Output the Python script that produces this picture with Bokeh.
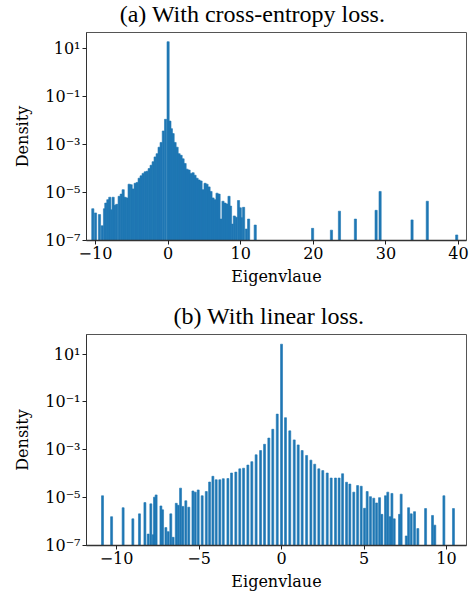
from bokeh.plotting import figure
from bokeh.layouts import column
from bokeh.models import FixedTicker, CustomJSTickFormatter, Range1d
from bokeh.core.properties import value
from bokeh.embed import file_html
from bokeh.resources import INLINE

# ---------------- data: (a) cross-entropy loss ----------------
ce_eig = [-10.37, -10.0, -9.45, -9.08, -8.76, -8.58, -8.3, -8.03, -7.8, -7.57,
          -7.34, -7.07, -6.74, -6.46, -6.19, -5.92, -5.64, -5.37, -5.09, -4.82,
          -4.54, -4.27, -3.99, -3.72, -3.44, -3.16, -2.89, -2.61, -2.34, -2.06,
          -1.79, -1.51, -1.24, -0.96, -0.66, -0.35, 0.0, 0.25, 0.45, 0.69,
          0.96, 1.24, 1.51, 1.79, 2.06, 2.34, 2.61, 2.89, 3.16, 3.44,
          3.71, 3.99, 4.26, 4.54, 4.81, 5.09, 5.36, 5.64, 5.91, 6.19,
          6.46, 6.74, 7.02, 7.29, 7.56, 7.84, 8.11, 8.39, 8.6, 8.85,
          9.12, 9.39, 9.7, 9.94, 10.12, 10.4, 10.77, 11.09,
          12.0, 19.9, 22.5, 23.6, 25.8, 28.65, 29.2, 33.6, 35.7, 39.75]
ce_density = [2.1e-6, 1.4e-6, 1.2e-6, 4.1e-7, 2.1e-6, 3.6e-6, 5.0e-6, 6.3e-6, 1.9e-6, 6.3e-6,
              2.9e-6, 3.2e-6, 6.9e-6, 8.5e-6, 1.3e-5, 6.3e-6, 5.9e-6, 2.2e-5, 2.1e-5, 1.4e-5,
              2.4e-5, 2.6e-5, 3.9e-5, 4.9e-5, 6.2e-5, 7.2e-5, 7.6e-5, 9.8e-5, 1.35e-4, 1.9e-4,
              3.0e-4, 4.1e-4, 7.6e-4, 1.2e-3, 3.6e-3, 1.1e-2, 18.6, 9.3e-3, 4.5e-3, 2.8e-3,
              1.2e-3, 7.6e-4, 4.1e-4, 3.5e-4, 2.5e-4, 1.6e-4, 9.3e-5, 8.5e-5, 6.2e-5, 6.6e-5,
              5.2e-5, 3.9e-5, 3.3e-5, 3.0e-5, 1.3e-5, 2.4e-5, 2.2e-5, 1.7e-5, 1.1e-5, 5.9e-6,
              5.0e-6, 9.3e-6, 8.5e-6, 7.8e-7, 4.3e-6, 3.6e-6, 3.3e-6, 6.9e-6, 2.7e-6, 4.8e-7,
              1.05e-6, 9.3e-7, 4.6e-6, 2.3e-6, 8.9e-7, 2.4e-6, 3.0e-7, 7.8e-7,
              4.4e-7, 3.2e-7, 2.7e-7, 1.66e-6, 7.8e-7, 1.8e-6, 1.1e-5, 7.2e-7, 4.3e-6, 1.7e-7]

# ---------------- data: (b) linear loss ----------------
lin_eig = [-10.85, -10.30, -9.6, -9.01, -8.61, -8.28, -8.08, -7.92, -7.78, -7.70,
           -7.6, -7.31, -7.21, -7.01, -6.87, -6.71, -6.57, -6.38, -6.26, -6.12,
           -5.98, -5.80, -5.62, -5.37, -5.23, -5.05, -4.81, -4.56, -4.36, -4.16,
           -3.96, -3.74, -3.53, -3.25, -3.03, -2.77, -2.53, -2.30, -2.04, -1.80,
           -1.54, -1.27, -1.03, -0.77, -0.53, -0.26, 0.0, 0.24, 0.50, 0.77,
           1.01, 1.25, 1.52, 1.78, 2.01, 2.26, 2.50, 2.77, 3.01, 3.27,
           3.49, 3.70, 3.94, 4.14, 4.38, 4.61, 4.83, 5.03, 5.19, 5.39,
           5.59, 5.76, 5.94, 6.08, 6.30, 6.44, 6.58, 6.69, 6.83, 7.15,
           7.25, 7.56, 7.70, 7.86, 8.06, 8.26, 8.73, 9.15, 9.29, 9.84, 10.42]
lin_density = [1.2e-5, 1.6e-6, 3.8e-6, 1.3e-6, 2.1e-6, 6.2e-6, 3.0e-7, 5.5e-6, 2.8e-7, 1.05e-5,
               1.3e-5, 4.5e-6, 3.1e-6, 5.6e-7, 3.8e-7, 2.1e-6, 2.2e-7, 5.8e-6, 4.8e-6, 2.5e-5,
               4.3e-6, 7.4e-6, 4.0e-6, 1.9e-5, 1.7e-5, 2.1e-5, 1.2e-5, 1.8e-5, 4.5e-5, 7.8e-5,
               5.6e-5, 5.6e-5, 6.2e-5, 6.3e-5, 1.07e-4, 1.17e-4, 1.6e-4, 1.7e-4, 2.3e-4, 3.2e-4,
               6.2e-4, 9.3e-4, 1.7e-3, 3.1e-3, 7.2e-3, 3.1e-2, 26.0, 2.2e-2, 6.2e-3, 2.6e-3,
               1.6e-3, 9.3e-4, 5.8e-4, 3.7e-4, 2.5e-4, 1.6e-4, 1.35e-4, 1.07e-4, 6.6e-5, 6.6e-5,
               6.6e-5, 1.0e-4, 4.4e-5, 3.7e-5, 1.7e-5, 3.2e-5, 3.0e-5, 3.6e-6, 1.8e-5, 1.1e-5,
               9.5e-6, 6.0e-6, 1.0e-5, 2.0e-6, 1.2e-5, 1.7e-5, 1.6e-6, 1.5e-5, 1.3e-6, 2.0e-6,
               1.4e-5, 2.5e-7, 3.8e-6, 2.1e-6, 2.6e-6, 5.1e-7, 3.5e-6, 1.8e-6, 7.1e-7, 1.2e-5, 3.5e-6]

titles = ["(a) With cross-entropy loss.", "(b) With linear loss."]
y_ticks = [1e-7, 1e-5, 1e-3, 1e-1, 1e1]
ce_xticks = [-10, 0, 10, 20, 30, 40]
lin_xticks = [-10, -5, 0, 5, 10]
floor = 1e-7

BLUE = "#1f77b4"
SERIF = "DejaVu Serif"
W = 472
MBL, MBR = 86, 6          # frame spans page x 86 .. 466 in every figure of the column

Y_FMT = CustomJSTickFormatter(code="""
const e = Math.round(Math.log10(tick));
const sup = {'-':'\u207b','0':'\u2070','1':'\u00b9','2':'\u00b2','3':'\u00b3','4':'\u2074','5':'\u2075','6':'\u2076','7':'\u2077','8':'\u2078','9':'\u2079'};
return '10' + String(e).split('').map(c => sup[c]).join('');
""")
X_FMT = CustomJSTickFormatter(code="""
return tick < 0 ? '\u2212' + Math.abs(tick) : String(tick);
""")


def title_fig(text, height, cx, center_from_top):
    # x range expressed in page pixels of the (column-aligned) frame
    t = figure(width=W, height=height, x_range=Range1d(MBL, W - MBR), y_range=Range1d(0, height),
               x_axis_location=None, y_axis_location=None,
               output_backend="svg", toolbar_location=None,
               min_border_left=MBL, min_border_right=MBR, min_border_top=0, min_border_bottom=0)
    t.grid.visible = False
    t.outline_line_color = None
    t.text(x=[cx], y=[height - center_from_top], text=[text],
           text_align="center", text_baseline="middle",
           text_font=value("Liberation Serif"), text_font_size="24px", text_color="#000000")
    return t


def make(xs, ys, xr, ytop, xticks, height, mbt, mbb, bar_w):
    p = figure(width=W, height=height, y_axis_type="log",
               x_range=Range1d(*xr), y_range=Range1d(floor, ytop),
               output_backend="svg", toolbar_location=None,
               min_border_left=MBL, min_border_right=MBR,
               min_border_top=mbt, min_border_bottom=mbb)
    p.vbar(x=xs, top=ys, bottom=floor, width=bar_w,
           fill_color=BLUE, line_color=BLUE, line_width=0.6)
    p.xgrid.visible = False
    p.ygrid.visible = False
    p.outline_line_color = "#555555"
    p.outline_line_width = 1

    p.yaxis.ticker = FixedTicker(ticks=y_ticks, minor_ticks=[])
    p.yaxis.formatter = Y_FMT
    p.xaxis.ticker = FixedTicker(ticks=xticks, minor_ticks=[])
    p.xaxis.formatter = X_FMT
    for ax in (p.xaxis, p.yaxis):
        ax.major_label_text_font = SERIF
        ax.major_label_text_font_size = "16px"
        ax.major_label_text_color = "#000000"
        ax.axis_label_text_font = SERIF
        ax.axis_label_text_font_size = "16px"
        ax.axis_label_text_font_style = "normal"
        ax.axis_label_text_color = "#000000"
        ax.major_tick_out = 4
        ax.major_tick_in = 0
        ax.minor_tick_out = 0
        ax.minor_tick_in = 0
        ax.major_tick_line_color = "#222222"
        ax.axis_line_color = "#333333"
        ax.major_label_standoff = 2
    p.xaxis.axis_label_standoff = 5
    p.yaxis.axis_label_standoff = 10
    p.xaxis.axis_line_width = 1.6
    p.xaxis.axis_label = "Eigenvlaue"
    p.yaxis.axis_label = "Density"
    return p


t1 = title_fig(titles[0], 30, 252, 13.3)
p1 = make(ce_eig, ce_density, (-11.24, 41.1), 45.0, ce_xticks, 261, 2, 51, 0.3)
t2 = title_fig(titles[1], 39, 268.5, 24.9)
p2 = make(lin_eig, lin_density, (-11.82, 11.21), 66.0, lin_xticks, 265, 4, 50, 0.12)

layout = column(t1, p1, t2, p2, spacing=0)

open("out.html", "w").write(file_html(layout, INLINE))
